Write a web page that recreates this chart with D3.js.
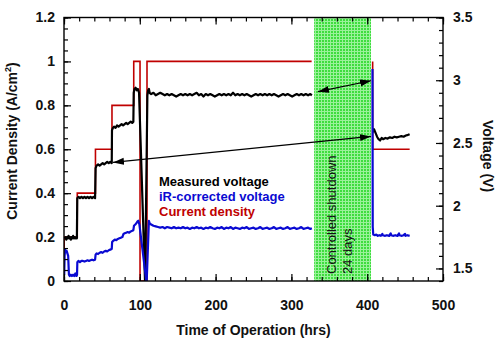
<!DOCTYPE html>
<html><head><meta charset="utf-8">
<script src="https://cdn.jsdelivr.net/npm/d3@7"></script>
<style>
body{margin:0;background:#fff;}
text{font-family:"Liberation Sans",Arial,sans-serif;}
</style></head>
<body><svg id="c" width="500" height="344"></svg>
<script>
// ---------------- data ----------------
const xTicks = [0,100,200,300,400,500];
const xTickLabels = ["0","100","200","300","400","500"];
const leftTicks = [0,0.2,0.4,0.6,0.8,1,1.2];
const leftTickLabels = ["0","0.2","0.4","0.6","0.8","1","1.2"];
const rightTicks = [1.5,2,2.5,3,3.5];
const rightTickLabels = ["1.5","2","2.5","3","3.5"];

// shutdown window (hrs)
const shutdown = [330, 405];
const shutdownLabels = ["Controlled shutdown","24 days"];

// current density (A/cm2) [hrs, value]; null = gap
const currentDensity = [
 [0.3,0],[0.3,0.2],[17.5,0.2],[17.5,0.4],[41.5,0.4],[41.5,0.6],[63.3,0.6],[63.3,0.8],
 [92,0.8],[92,1.0],[100.3,1.0],[100.3,0],[109.5,0],[109.5,1.0],[326.7,1.0],
 null,
 [407.2,1.0],[407.2,0.6],[456,0.6]
];

// measured voltage (V)
const measuredVoltage = [
 [1,1.74],[2,1.75],[3,1.73],[4,1.75],[5,1.74],[6,1.76],[7,1.74],[8,1.75],[9,1.73],[10,1.75],[11,1.74],[12,1.76],[13,1.74],[14,1.75],[15,1.74],[16,1.75],[17,1.74],
 [17.5,2.06],[19,2.07],[21,2.06],[23,2.07],[25,2.06],[27,2.07],[29,2.06],[31,2.07],[33,2.06],[35,2.07],[37,2.06],[39,2.07],[41,2.06],
 [41.7,2.30],[43,2.32],[45,2.33],[47,2.32],[49,2.33],[51,2.34],[53,2.33],[55,2.34],[57,2.35],[59,2.34],[61,2.35],[63,2.34],
 [63.3,2.60],[64.5,2.62],[66,2.63],[68,2.62],[70,2.64],[72,2.63],[74,2.64],[76,2.65],[78,2.64],[80,2.65],[82,2.66],[84,2.65],[86,2.66],[88,2.67],[90,2.66],[91.5,2.67],
 [92,2.90],[93,2.93],[94.5,2.94],[96,2.92],[97.5,2.93],[99,2.90],
 [107,1.38],
 [110,2.88],[111,2.92],[112,2.93],[113,2.90],[115,2.89],[118,2.90],[121,2.88],[124,2.89],[127,2.90],[130,2.89],[133,2.88],[136,2.89],[139,2.88],[142,2.89],[145,2.88],[148,2.87],[151,2.88],[154,2.89],[157,2.88],[160,2.89],[163,2.88],[166,2.89],[169,2.88],[172,2.89],[175,2.90],[178,2.88],[181,2.89],[184,2.87],[187,2.89],[190,2.88],[193,2.89],[196,2.88],[199,2.87],[202,2.88],[205,2.89],[208,2.88],[211,2.89],[214,2.88],[217,2.89],[220,2.88],[223,2.90],[226,2.88],[229,2.89],[232,2.88],[235,2.89],[238,2.88],[241,2.89],[244,2.88],[247,2.87],[250,2.88],[253,2.89],[256,2.88],[259,2.89],[262,2.88],[265,2.89],[268,2.88],[271,2.89],[274,2.88],[277,2.89],[280,2.88],[283,2.87],[286,2.88],[289,2.89],[292,2.88],[295,2.89],[298,2.88],[301,2.87],[304,2.88],[307,2.89],[310,2.88],[313,2.89],[316,2.88],[319,2.89],[322,2.88],[325,2.89],[327,2.88],
 null,
 [407.5,2.585],[409,2.61],[411,2.58],[413,2.55],[415,2.53],[417,2.52],[419,2.54],[421,2.53],[424,2.54],[427,2.535],[430,2.545],[433,2.54],[436,2.55],[439,2.545],[442,2.55],[445,2.555],[448,2.55],[451,2.56],[454,2.565],[456,2.57]
];

// iR-corrected voltage (V)
const irVoltage = [
 [0.3,1.45],[0.8,1.60],[1.5,1.65],[2.5,1.63],[3.5,1.64],[4.5,1.62],[5.5,1.60],[6.5,1.45],[7.5,1.44],[9,1.45],[10.5,1.44],[12,1.45],[13.5,1.44],[15,1.46],[16.5,1.44],[17.2,1.45],
 [17.6,1.55],[19,1.56],[21,1.55],[23,1.56],[25,1.56],[27,1.555],[29,1.56],[31,1.565],[33,1.56],[35,1.565],[37,1.57],[39,1.565],[41,1.57],
 [41.7,1.61],[43,1.62],[45,1.615],[47,1.625],[49,1.63],[51,1.625],[53,1.635],[55,1.64],[57,1.635],[59,1.645],[61,1.65],[63,1.655],
 [63.5,1.71],[65,1.72],[67,1.73],[69,1.725],[71,1.735],[73,1.74],[75,1.745],[77,1.75],[78.5,1.775],[80,1.78],[82,1.785],[84,1.79],[86,1.785],[88,1.795],[90,1.80],[91.5,1.805],
 [92.3,1.84],[94,1.85],[95.5,1.86],[97,1.875],[98,1.88],[99.5,1.85],
 [109,1.38],
 [112,1.88],[113,1.86],[115,1.85],[118,1.84],[121,1.835],[124,1.83],[127,1.825],[130,1.83],[133,1.82],[136,1.83],[139,1.825],[142,1.82],[145,1.83],[148,1.82],[151,1.825],[154,1.82],[157,1.83],[160,1.82],[163,1.825],[166,1.815],[169,1.825],[172,1.82],[175,1.83],[178,1.82],[181,1.825],[184,1.815],[187,1.825],[190,1.82],[193,1.83],[196,1.82],[199,1.815],[202,1.825],[205,1.82],[208,1.83],[211,1.815],[214,1.825],[217,1.82],[220,1.83],[223,1.815],[226,1.825],[229,1.82],[232,1.815],[235,1.825],[238,1.82],[241,1.83],[244,1.815],[247,1.82],[250,1.825],[253,1.815],[256,1.82],[259,1.83],[262,1.815],[265,1.82],[268,1.825],[271,1.815],[274,1.82],[277,1.83],[280,1.815],[283,1.82],[286,1.825],[289,1.815],[292,1.82],[295,1.83],[298,1.815],[301,1.82],[304,1.825],[307,1.815],[310,1.82],[313,1.83],[316,1.815],[319,1.82],[322,1.825],[325,1.815],[327,1.82],
 null,
 [407,3.09],[407.3,1.83],[408,1.77],[410,1.765],[412,1.77],[414,1.76],[416,1.765],[418,1.76],[420,1.775],[420.5,1.765],[423,1.76],[426,1.765],[429,1.76],[431,1.78],[431.5,1.765],[434,1.76],[437,1.765],[440,1.76],[442,1.78],[442.5,1.765],[445,1.76],[448,1.765],[450,1.775],[450.5,1.76],[453,1.765],[456,1.76]
];

// annotation arrows, in [hrs, volts]
const arrows = [
 [[335,2.909],[405,2.996]],
 [[64.6,2.345],[405,2.552]]
];

const legendLabels = ["Measured voltage","iR-corrected voltage","Current density"];
const colors = {measured:"#000000", ir:"#0a0ad2", current:"#c00000"};

// ---------------- chart ----------------
const svg = d3.select("#c");
const L=64, R=443, T=17.5, B=281;
const x = d3.scaleLinear([0,500],[L,R]);
const yL = d3.scaleLinear([0,1.2],[B,T]);
const yR = d3.scaleLinear([1.4,3.5],[B,T]);

const defs = svg.append("defs");
const pat = defs.append("pattern").attr("id","grid").attr("patternUnits","userSpaceOnUse")
  .attr("width",3).attr("height",3);
pat.append("rect").attr("width",3).attr("height",3).attr("fill","#3edd3e");
pat.append("rect").attr("width",3).attr("height",1).attr("fill","#9af29a");
pat.append("rect").attr("width",1).attr("height",3).attr("fill","#9af29a");
defs.append("clipPath").attr("id","clip").append("rect")
  .attr("x",L).attr("y",T).attr("width",R-L).attr("height",B-T);
defs.append("marker").attr("id","ah").attr("markerUnits","userSpaceOnUse")
  .attr("markerWidth",12).attr("markerHeight",8).attr("refX",11).attr("refY",3.5)
  .attr("orient","auto-start-reverse")
  .append("path").attr("d","M0,0 L11,3.5 L0,7 Z").attr("fill","#000");

// shutdown box
svg.append("rect").attr("x",x(shutdown[0])).attr("y",T)
  .attr("width",x(shutdown[1])-x(shutdown[0])).attr("height",B-T)
  .attr("fill","url(#grid)");

const g = svg.append("g").attr("clip-path","url(#clip)");
const lineL = d3.line().defined(d=>d!==null).x(d=>x(d[0])).y(d=>yL(d[1]));
const lineR = d3.line().defined(d=>d!==null).x(d=>x(d[0])).y(d=>yR(d[1]));

g.append("path").attr("d",lineL(currentDensity)).attr("fill","none")
  .attr("stroke",colors.current).attr("stroke-width",1.6);
g.append("path").attr("d",lineR(measuredVoltage)).attr("fill","none")
  .attr("stroke",colors.measured).attr("stroke-width",2.2).attr("stroke-linejoin","round");
g.append("path").attr("d",lineR(irVoltage)).attr("fill","none")
  .attr("stroke",colors.ir).attr("stroke-width",2.2).attr("stroke-linejoin","round");

// arrows
arrows.forEach(a=>{
  svg.append("line").attr("x1",x(a[0][0])).attr("y1",yR(a[0][1]))
    .attr("x2",x(a[1][0])).attr("y2",yR(a[1][1]))
    .attr("stroke","#000").attr("stroke-width",1.2)
    .attr("marker-start","url(#ah)").attr("marker-end","url(#ah)");
});

// shutdown text
const sx = [330.5, 347];
shutdownLabels.forEach((t,i)=>{
  svg.append("text").attr("transform",`translate(${sx[i]+5},274) rotate(-90)`)
    .attr("font-size",13).attr("fill","#111").text(t);
});

// axes
function styleAxis(sel){
  sel.select(".domain").remove();
  sel.selectAll(".tick line").attr("stroke","#000").attr("stroke-width",1.2);
  sel.selectAll("text").attr("font-size",14).attr("font-weight","bold")
    .attr("fill","#111").attr("font-family","\"Liberation Sans\",Arial,sans-serif");
}
const xMinor = d3.range(0,501,20);
const lMinor = d3.range(0,25).map(i=>i*0.05);
const rMinor = d3.range(0,22).map(i=>+(1.4+i*0.1).toFixed(2));

svg.append("g").attr("transform",`translate(0,${B})`)
  .call(d3.axisBottom(x).tickValues(xMinor).tickSize(-4).tickFormat("")).call(styleAxis);
svg.append("g").attr("transform",`translate(0,${B})`)
  .call(d3.axisBottom(x).tickValues(xTicks).tickSize(-7).tickPadding(19)
  .tickFormat((d,i)=>xTickLabels[i])).call(styleAxis);
svg.append("g").attr("transform",`translate(0,${T})`)
  .call(d3.axisTop(x).tickValues(xMinor).tickSize(-4).tickFormat("")).call(styleAxis);
svg.append("g").attr("transform",`translate(0,${T})`)
  .call(d3.axisTop(x).tickValues(xTicks).tickSize(-7).tickFormat("")).call(styleAxis);
svg.append("g").attr("transform",`translate(${L},0)`)
  .call(d3.axisLeft(yL).tickValues(lMinor).tickSize(-4).tickFormat("")).call(styleAxis);
svg.append("g").attr("transform",`translate(${L},0)`)
  .call(d3.axisLeft(yL).tickValues(leftTicks).tickSize(-7).tickPadding(9)
  .tickFormat((d,i)=>leftTickLabels[i])).call(styleAxis);
svg.append("g").attr("transform",`translate(${R},0)`)
  .call(d3.axisRight(yR).tickValues(rMinor).tickSize(-4).tickFormat("")).call(styleAxis);
svg.append("g").attr("transform",`translate(${R},0)`)
  .call(d3.axisRight(yR).tickValues(rightTicks).tickSize(-7).tickPadding(10)
  .tickFormat((d,i)=>rightTickLabels[i])).call(styleAxis);

svg.append("rect").attr("x",L).attr("y",T).attr("width",R-L).attr("height",B-T)
  .attr("fill","none").attr("stroke","#000").attr("stroke-width",1.4);

// titles
svg.append("text").attr("x",(L+R)/2+0).attr("y",335).attr("text-anchor","middle")
  .attr("font-size",14).attr("font-weight","bold").attr("fill","#111").text("Time of Operation (hrs)");
const lt = svg.append("text").attr("transform","translate(17,141) rotate(-90)")
  .attr("text-anchor","middle").attr("font-size",14).attr("font-weight","bold").attr("fill","#111");
lt.append("tspan").text("Current Density (A/cm");
lt.append("tspan").attr("font-size",9).attr("dy",-6).text("2");
lt.append("tspan").attr("dy",6).text(")");
svg.append("text").attr("transform","translate(483,156) rotate(90)")
  .attr("text-anchor","middle").attr("font-size",14).attr("font-weight","bold").attr("fill","#111").text("Voltage (V)");

// legend
const lc = [colors.measured, colors.ir, colors.current];
legendLabels.forEach((t,i)=>{
  svg.append("text").attr("x",159).attr("y",185.5+i*15).attr("font-size",13)
    .attr("font-weight","bold").attr("fill",lc[i]).text(t);
});
</script></body></html>
